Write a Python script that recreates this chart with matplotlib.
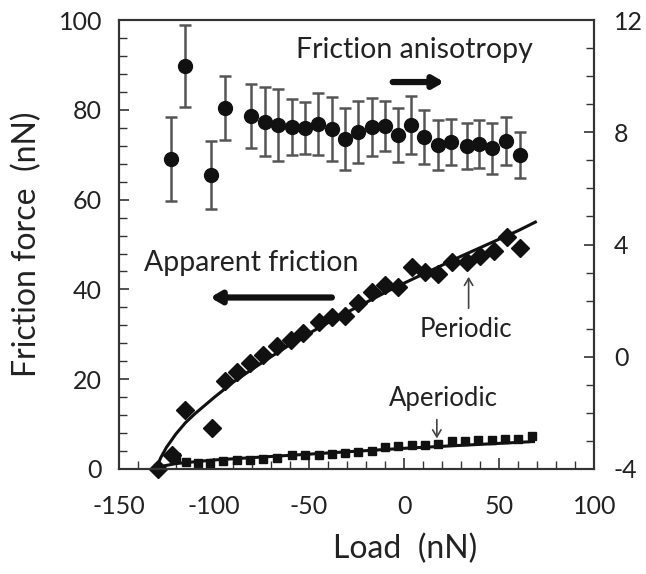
import matplotlib
matplotlib.use("Agg")
import matplotlib.pyplot as plt
from matplotlib.ticker import MultipleLocator

plt.rcParams['font.family'] = ['Lato', 'DejaVu Sans']
plt.rcParams['axes.unicode_minus'] = False

# friction anisotropy (right axis)
aniso_load = [-122.6, -115.3, -101.6, -94.2, -80.5, -73.2, -66.3, -59.0, -52.1, -45.3,
              -37.9, -31.0, -24.2, -16.8, -10.0, -3.2, 3.7, 10.5, 17.9, 24.7,
              33.2, 39.5, 46.3, 53.7, 61.0]
aniso_val = [7.05, 10.36, 6.48, 8.86, 8.58, 8.37, 8.26, 8.19, 8.15, 8.30,
             8.12, 7.76, 8.00, 8.19, 8.22, 7.90, 8.26, 7.83, 7.55, 7.65,
             7.51, 7.58, 7.43, 7.69, 7.19]
aniso_err = [1.50, 1.45, 1.20, 1.15, 1.15, 1.23, 1.27, 1.00, 0.93, 1.10,
             1.15, 1.10, 1.10, 1.05, 0.90, 0.95, 1.05, 0.95, 0.90, 0.83,
             0.82, 0.85, 0.90, 0.85, 0.82]

# periodic apparent friction (left axis)
per_load = [-129.3, -122.3, -115.3, -101.2, -94.2, -88.0, -81.0, -74.0, -67.0, -59.5,
            -53.0, -45.0, -38.0, -31.0, -24.0, -17.0, -10.0, -3.0, 4.0, 11.0,
            18.0, 25.0, 33.0, 40.0, 47.0, 54.0, 61.0]
per_force = [0.0, 3.1, 13.1, 9.1, 19.6, 21.6, 23.6, 25.3, 27.4, 28.7,
             30.4, 32.8, 33.9, 34.0, 36.9, 39.5, 41.0, 40.6, 44.9, 43.9,
             43.5, 46.1, 46.0, 47.5, 48.5, 51.7, 49.3]
per_fit_load = [-131, -128, -125, -120, -115, -110, -100, -90, -80, -70, -60, -50,
                -40, -30, -20, -10, 0, 10, 20, 30, 40, 50, 60, 69]
per_fit_force = [-0.5, 2.5, 4.8, 7.8, 10.3, 12.3, 15.9, 19.3, 22.2, 25.0, 27.7, 30.2,
                 32.6, 34.9, 37.1, 39.3, 41.4, 43.4, 45.4, 47.4, 49.3, 51.2, 53.1, 55.0]

# aperiodic apparent friction (left axis)
aper_load = [-129.3, -120.0, -114.5, -108.5, -102.0, -95.0, -88.0, -81.0, -74.0, -67.0,
             -59.0, -52.0, -45.0, -38.0, -31.0, -24.0, -17.0, -10.0, -3.0, 4.0,
             11.0, 18.0, 25.0, 32.0, 39.0, 46.0, 53.0, 60.0, 67.0]
aper_force = [0.2, 2.6, 1.6, 1.4, 1.4, 1.7, 2.0, 2.0, 2.2, 2.4,
              3.2, 3.2, 3.2, 3.4, 3.6, 3.7, 3.9, 5.0, 5.1, 5.3,
              5.4, 5.5, 6.3, 6.3, 6.5, 6.4, 6.6, 6.6, 7.3]
aper_fit_load = [-131, -120, -100, -50, 0, 50, 68]
aper_fit_force = [0.3, 1.2, 2.0, 3.3, 4.6, 5.7, 6.1]

ink = "#111111"
txt = "#222222"
axc = "#333333"

fig = plt.figure(figsize=(6.46, 5.74), dpi=100)
ax = fig.add_axes([0.184, 0.183, 0.736, 0.782])
ax2 = ax.twinx()

ax.plot(per_fit_load, per_fit_force, "-", color=ink, lw=2.2, clip_on=False)
ax.plot(per_load, per_force, "D", color=ink, ms=9.5, clip_on=False)
ax.plot(aper_fit_load, aper_fit_force, "-", color=ink, lw=2.2, clip_on=False)
ax.plot(aper_load, aper_force, "s", color=ink, ms=6, clip_on=False)

ax2.errorbar(aniso_load, aniso_val, yerr=aniso_err, fmt="o", color=ink, ms=10,
             ecolor="#555555", elinewidth=1.8, capsize=4.5, capthick=1.8)

ax.set_xlim(-150, 100)
ax.set_ylim(0, 100)
ax2.set_ylim(-4, 12)

ax.xaxis.set_major_locator(MultipleLocator(50))
ax.xaxis.set_minor_locator(MultipleLocator(10))
ax.yaxis.set_major_locator(MultipleLocator(20))
ax.yaxis.set_minor_locator(MultipleLocator(4))
ax2.yaxis.set_major_locator(MultipleLocator(4))
ax2.yaxis.set_minor_locator(MultipleLocator(1))

ax.tick_params(axis="x", which="both", direction="in", top=False, colors=axc,
               labelcolor=txt, labelsize=18, pad=19)
ax.tick_params(axis="x", which="major", length=8, width=1.2)
ax.tick_params(axis="x", which="minor", length=6, width=1.0)
ax.tick_params(axis="y", which="both", direction="in", right=False, colors=axc,
               labelcolor=txt, labelsize=18, pad=12)
ax.tick_params(axis="y", which="major", length=7, width=1.2)
ax.tick_params(axis="y", which="minor", length=6, width=1.0)
ax2.tick_params(axis="y", which="both", direction="in", colors=axc,
                labelcolor=txt, labelsize=18, pad=14)
ax2.tick_params(axis="y", which="major", length=7, width=1.2)
ax2.tick_params(axis="y", which="minor", length=6, width=1.0)

for a in (ax, ax2):
    for sp in a.spines.values():
        sp.set_color(axc)
        sp.set_linewidth(1.5)

ax.set_xlabel("Load  (nN)", fontsize=23, color=txt, va="center")
ax.xaxis.set_label_coords(0.602, -0.178)
ax.set_ylabel("Friction force  (nN)", fontsize=23, color=txt, va="center")
ax.yaxis.set_label_coords(-0.193, 0.5)

arrow_thick = dict(arrowstyle="-|>,head_length=0.6,head_width=0.35",
                   color=ink, lw=4.5, shrinkA=0, shrinkB=0)
arrow_thin = dict(arrowstyle="->,head_length=0.5,head_width=0.3",
                  color="#444444", lw=1.2, shrinkA=0, shrinkB=0)

ax.text(5.3, 93.3, "Friction anisotropy", fontsize=20.5, ha="center", va="center", color=txt)
ax.annotate("", xy=(21, 86.2), xytext=(-6, 86.2), arrowprops=arrow_thick)
ax.text(-80.5, 45.9, "Apparent friction", fontsize=20.5, ha="center", va="center", color=txt)
ax.annotate("", xy=(-102, 38.2), xytext=(-38, 38.2), arrowprops=arrow_thick)
ax.text(32.5, 31.0, "Periodic", fontsize=18.5, ha="center", va="center", color=txt)
ax.annotate("", xy=(33.9, 42.8), xytext=(33.9, 35.8), arrowprops=arrow_thin)
ax.text(20.4, 15.7, "Aperiodic", fontsize=18.5, ha="center", va="center", color=txt)
ax.annotate("", xy=(17.2, 6.8), xytext=(17.2, 11.0), arrowprops=arrow_thin)

fig.savefig("out.png", dpi=100)
